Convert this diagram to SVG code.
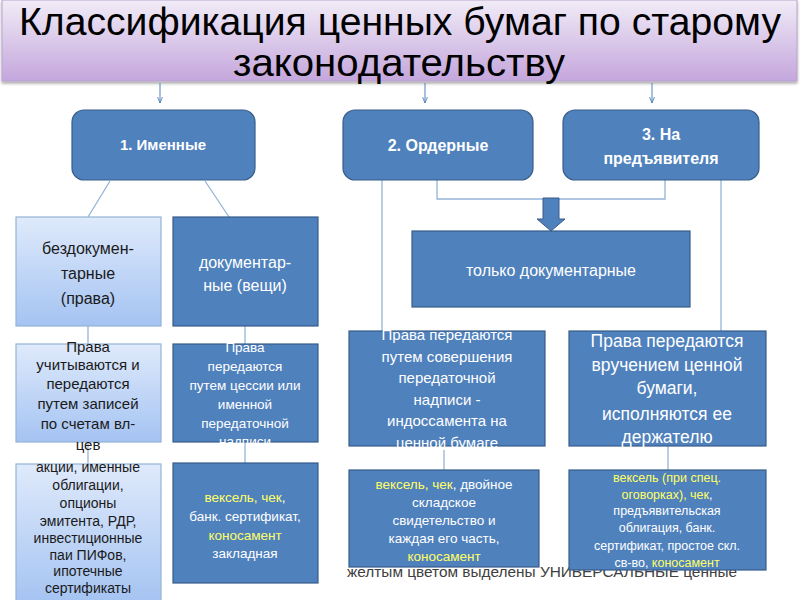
<svg xmlns="http://www.w3.org/2000/svg" width="800" height="600" viewBox="0 0 800 600">
<defs>
<linearGradient id="gTitle" x1="0" y1="0" x2="0" y2="1">
<stop offset="0" stop-color="#f1ecf7"/>
<stop offset="1" stop-color="#c4a6dc"/>
</linearGradient>
<linearGradient id="gLight" x1="0" y1="0" x2="0" y2="1">
<stop offset="0" stop-color="#dfeafb"/>
<stop offset="1" stop-color="#a4c3f2"/>
</linearGradient>
<filter id="sh" x="-5%" y="-5%" width="110%" height="120%">
<feDropShadow dx="0" dy="2" stdDeviation="1.5" flood-color="#000" flood-opacity="0.35"/>
</filter>
<marker id="arr" viewBox="0 0 10 10" refX="10" refY="5" markerWidth="6" markerHeight="6" orient="auto">
<path d="M0,1 L10,5 L0,9" fill="none" stroke="#4f81bd" stroke-width="1.5"/>
</marker>
</defs>
<style>
.dark{fill:#4f81bd;stroke:#385d8a;stroke-width:1.2}
.light{fill:url(#gLight);stroke:#95b3d7;stroke-width:1.2}
.conn{stroke:#95b3d7;stroke-width:1.3;fill:none}
.t{font-family:"Liberation Sans",Arial,sans-serif;text-anchor:middle}
.w{fill:#ffffff}
.k{fill:#1a1a1a}
.b{font-weight:bold}
.y{fill:#ffff66}
</style>
<rect width="800" height="600" fill="#ffffff"/>

<!-- footnote text (partially hidden behind boxes) -->
<text x="347" y="577" font-family="'Liberation Sans',Arial,sans-serif" font-size="15" fill="#404040" textLength="390" lengthAdjust="spacingAndGlyphs">желтым цветом выделены УНИВЕРСАЛЬНЫЕ ценные</text>

<g id="title">
<rect x="2" y="0" width="795" height="81" fill="url(#gTitle)" stroke="#b9a3cf" stroke-width="1" filter="url(#sh)"/>
<text x="400" y="35" class="t" font-size="38" fill="#000" textLength="762" lengthAdjust="spacingAndGlyphs">Классификация ценных бумаг по старому</text>
<text x="399" y="76" class="t" font-size="38" fill="#000" textLength="332" lengthAdjust="spacingAndGlyphs">законодательству</text>
</g>

<g id="connectors">
<line x1="160" y1="83" x2="160" y2="103" stroke="#4f81bd" stroke-width="1" marker-end="url(#arr)"/>
<line x1="425" y1="83" x2="425" y2="103" stroke="#4f81bd" stroke-width="1" marker-end="url(#arr)"/>
<line x1="652" y1="83" x2="652" y2="103" stroke="#4f81bd" stroke-width="1" marker-end="url(#arr)"/>
<line class="conn" x1="110" y1="181" x2="88" y2="217"/>
<line class="conn" x1="205" y1="181" x2="229" y2="217"/>
<line class="conn" x1="88" y1="326" x2="88" y2="344"/>
<line class="conn" x1="245" y1="326" x2="245" y2="344"/>
<line class="conn" x1="88" y1="442" x2="88" y2="464"/>
<line class="conn" x1="245" y1="442" x2="245" y2="463"/>
<line class="conn" x1="382" y1="180" x2="382" y2="331"/>
<polyline class="conn" points="437,180 437,199 665,199 665,180"/>
<line class="conn" x1="721" y1="180" x2="721" y2="331"/>
<line class="conn" x1="444" y1="450" x2="444" y2="470"/>
<line class="conn" x1="668" y1="446" x2="668" y2="470"/>
<path d="M543,198 L559,198 L559,219 L565,219 L551,231 L537,219 L543,219 Z" fill="#4f81bd" stroke="#385d8a" stroke-width="1"/>
</g>

<g id="n1">
<rect class="dark" x="72" y="110" width="183" height="70" rx="12"/>
<text class="t w b" x="163" y="150" font-size="15">1. Именные</text>
</g>
<g id="n2">
<rect class="dark" x="343" y="110" width="190" height="70" rx="12"/>
<text class="t w b" x="438" y="151" font-size="16">2. Ордерные</text>
</g>
<g id="n3">
<rect class="dark" x="563" y="110" width="196" height="70" rx="12"/>
<text class="t w b" x="661" y="140" font-size="16">3. На</text>
<text class="t w b" x="661" y="164" font-size="16">предъявителя</text>
</g>

<g id="bezdok">
<rect class="light" x="16" y="217" width="145" height="109"/>
<text class="t k" font-size="16"><tspan x="88" y="254">бездокумен-</tspan><tspan x="88" y="279">тарные</tspan><tspan x="88" y="304">(права)</tspan></text>
</g>
<g id="dok">
<rect class="dark" x="173" y="217" width="145" height="109"/>
<text class="t w" font-size="16"><tspan x="245" y="268">документар-</tspan><tspan x="245" y="291">ные  (вещи)</tspan></text>
</g>
<g id="tolko">
<rect class="dark" x="412" y="231" width="278" height="76"/>
<text class="t w" x="551" y="276" font-size="16">только документарные</text>
</g>

<g id="prava1">
<rect class="light" x="16" y="344" width="145" height="98"/>
<text class="t k" font-size="15"><tspan x="88" y="352">Права</tspan><tspan x="88" y="370">учитываются и</tspan><tspan x="88" y="389">передаются</tspan><tspan x="88" y="409">путем записей</tspan><tspan x="88" y="429">по счетам вл-</tspan><tspan x="88" y="450">цев</tspan></text>
</g>
<g id="prava2">
<rect class="dark" x="173" y="344" width="145" height="98"/>
<text class="t w" font-size="13.5"><tspan x="245" y="352">Права</tspan><tspan x="245" y="371">передаются</tspan><tspan x="245" y="390">путем цессии или</tspan><tspan x="245" y="409">именной</tspan><tspan x="245" y="428">передаточной</tspan><tspan x="245" y="446">надписи</tspan></text>
</g>
<g id="akcii">
<rect class="light" x="16" y="464" width="145" height="140"/>
<text class="t k" font-size="14"><tspan x="88" y="472">акции, именные</tspan><tspan x="88" y="490">облигации,</tspan><tspan x="88" y="508">опционы</tspan><tspan x="88" y="526">эмитента, РДР,</tspan><tspan x="88" y="543">инвестиционные</tspan><tspan x="88" y="560">паи ПИФов,</tspan><tspan x="88" y="576">ипотечные</tspan><tspan x="88" y="593">сертификаты</tspan></text>
</g>
<g id="veks1">
<rect class="dark" x="173" y="463" width="145" height="120"/>
<text class="t w" font-size="13.5"><tspan x="245" y="502"><tspan class="y">вексель, чек</tspan>,</tspan><tspan x="245" y="521">банк. сертификат,</tspan><tspan x="245" y="540" class="y">коносамент</tspan><tspan x="245" y="558">закладная</tspan></text>
</g>

<g id="prava3">
<rect class="dark" x="349" y="331" width="196" height="115"/>
<text class="t w" font-size="15"><tspan x="447" y="340">Права передаются</tspan><tspan x="447" y="362">путем совершения</tspan><tspan x="447" y="383">передаточной</tspan><tspan x="447" y="405">надписи  -</tspan><tspan x="447" y="426">индоссамента на</tspan><tspan x="447" y="448">ценной бумаге</tspan></text>
</g>
<g id="prava4">
<rect class="dark" x="569" y="331" width="197" height="115"/>
<text class="t w" font-size="17.5"><tspan x="667" y="347">Права передаются</tspan><tspan x="667" y="371">вручением ценной</tspan><tspan x="667" y="394">бумаги,</tspan><tspan x="667" y="420">исполняются ее</tspan><tspan x="667" y="443">держателю</tspan></text>
</g>
<g id="veks2">
<rect class="dark" x="349" y="470" width="190" height="97"/>
<text class="t w" font-size="13.5"><tspan x="444" y="489"><tspan class="y">вексель, чек</tspan>, двойное</tspan><tspan x="444" y="507">складское</tspan><tspan x="444" y="525">свидетельство  и</tspan><tspan x="444" y="543">каждая его часть,</tspan><tspan x="444" y="561" class="y">коносамент</tspan></text>
</g>
<g id="veks3">
<rect class="dark" x="569" y="470" width="197" height="100"/>
<text class="t w" font-size="12.5"><tspan x="667" y="482" class="y">вексель (при спец.</tspan><tspan x="667" y="499"><tspan class="y">оговорках), чек</tspan>,</tspan><tspan x="667" y="515">предъявительская</tspan><tspan x="667" y="532">облигация, банк.</tspan><tspan x="667" y="550">сертификат,  простое скл.</tspan><tspan x="667" y="567"><tspan>св-во, </tspan><tspan class="y">коносамент</tspan></tspan></text>
</g>
</svg>
